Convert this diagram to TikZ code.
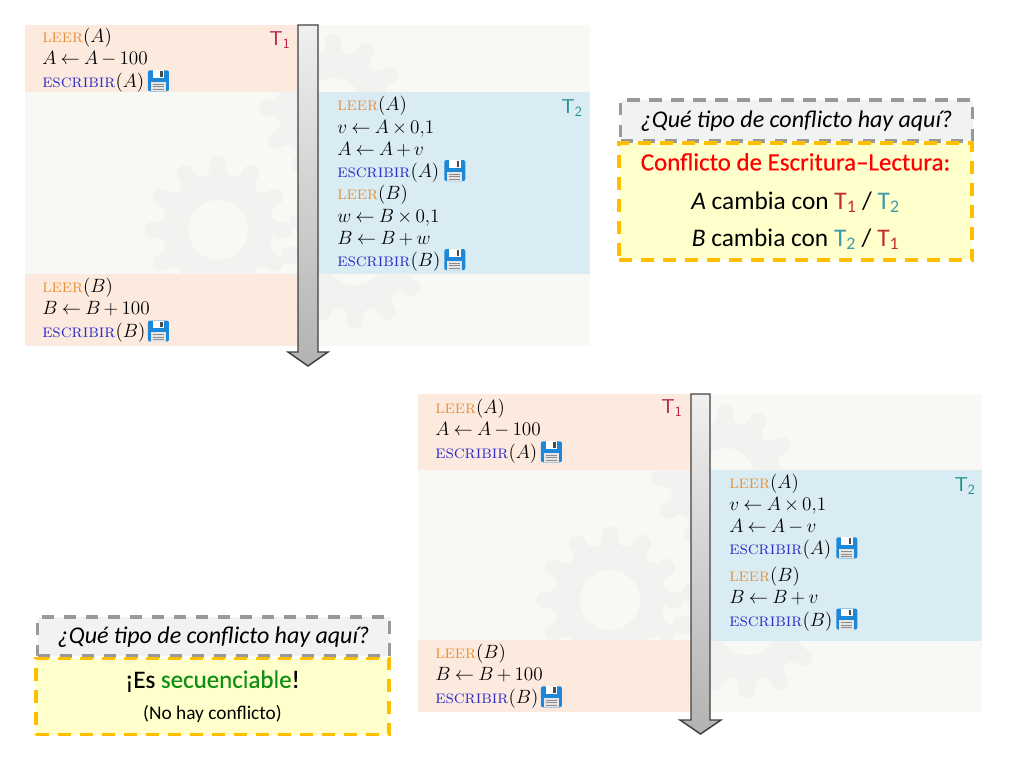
\documentclass[tikz,border=0pt]{standalone}
\usepackage{fontspec}
\usepackage{tikz}
\usetikzlibrary{positioning}
\newfontfamily\calibrifont{Carlito}
\newfontfamily\calibriheavy[FakeBold=0.3]{Carlito}
\thickmuskip=4mu
\medmuskip=3mu

\definecolor{panelback}{HTML}{F8F9F5}
\definecolor{gearback}{HTML}{F2F3F0}
\definecolor{peach}{HTML}{FDEADF}
\definecolor{skyblue}{HTML}{DAECF3}
\definecolor{leerorange}{HTML}{E8913A}
\definecolor{escribirblue}{HTML}{2E2EC8}
\definecolor{tOneRed}{HTML}{B8174A}
\definecolor{tTwoTeal}{HTML}{1A8C8C}
\definecolor{callRed}{HTML}{C0302A}
\definecolor{callTeal}{HTML}{3F9AA8}
\definecolor{greenWord}{HTML}{0F9010}
\definecolor{questBack}{HTML}{F2F2F2}
\definecolor{answerBack}{HTML}{FFFFCC}
\definecolor{floppyBlue}{HTML}{1E88D8}

\newcommand{\leer}[1]{\textcolor{leerorange}{\textsc{leer}}$(#1)$}
\newcommand{\escribir}[1]{\textcolor{escribirblue}{\textsc{escribir}}$(#1)$}
\newcommand{\callTa}{\textcolor{callRed}{T\textsubscript{1}}}
\newcommand{\callTb}{\textcolor{callTeal}{T\textsubscript{2}}}

% x, y of a wheel with 12 teeth
\newcommand{\gearwheel}[2]{
  \fill[gearback, rounded corners=5pt, shift={(#1,#2)}]
    (0:55) \foreach \k in {1,...,12}{
      -- ({(\k-.30)*30}:55) -- ({(\k-.20)*30}:74)
      -- ({(\k+.20)*30}:74) -- ({(\k+.30)*30}:55)
    } -- cycle;
  \fill[panelback, shift={(#1,#2)}] (0,0) circle (30);
}

\tikzset{
  codeline/.style={inner sep=0pt, text width=5cm, align=left, text height=10pt,
    text depth=3.5pt, font=\fontsize{13.75}{16}\selectfont},
  tlabel/.style={inner sep=0pt, font=\fontsize{15}{18}\selectfont},
  quest/.style={draw=gray!80, fill=questBack, line width=2.6pt, dash pattern=on 9.5pt off 7pt,
    minimum width=264pt, inner sep=0pt, text height=14pt, text depth=3pt,
    font=\calibrifont\itshape\fontsize{18}{22}\selectfont},
  answer/.style={draw=orange!50!yellow, fill=answerBack, line width=2.6pt, dash pattern=on 9.5pt off 7pt,
    minimum width=265pt, inner sep=0pt, align=center, font=\calibrifont\fontsize{19}{27.7}\selectfont},
  timearrow/.style={draw=black!75, line width=1.1pt, top color=black!6, bottom color=black!30},
  floppy/.pic={
    \fill[floppyBlue, rounded corners=1.5pt] (-10.5,-10.5) rectangle (10.5,10.5);
    \fill[white] (-5.5,-10.5) rectangle (6,-3);
    \fill[black!70] (2,-9.5) rectangle (4.5,-4);
    \fill[black!10] (-7.5,1) rectangle (7.5,10.5);
    \draw[black!45, line width=.5pt] (-5.5,3.5) -- (5.5,3.5) (-5.5,6) -- (5.5,6) (-5.5,8.5) -- (5.5,8.5);
  }
}

\begin{document}
\begin{tikzpicture}[x=.75pt, y=-.75pt, node distance=16.9pt]
\useasboundingbox (0,0) rectangle (1024,768);

% first schedule
\fill[panelback] (25,25) rectangle (590,346);
\gearwheel{333}{108}
\gearwheel{355}{255}
\gearwheel{218}{230}
\fill[peach] (25,25) rectangle (298,92);
\fill[peach] (25,274) rectangle (298,346);
\fill[skyblue] (318,92) rectangle (590,274);

\node(aRead)[codeline, anchor=west] at (42,37.7){\leer{A}};
\node(aSub)[codeline, below of=aRead]{$A \leftarrow A - 100$};
\node(aWrite)[codeline, below of=aSub]{\escribir{A}};
\pic at ([xshift=16pt, yshift=1.5pt]aWrite) {floppy};
\node(tOne)[tlabel, text=tOneRed] at (280,40){$\mathsf{T_1}$};

\node(cRead)[codeline, anchor=west, node distance=16.7pt] at (337,106.4){\leer{A}};
\node(cMul)[codeline, below of=cRead, node distance=16.7pt]{$v \leftarrow A \times 0{,}1$};
\node(cAdd)[codeline, below of=cMul, node distance=16.7pt]{$A \leftarrow A + v$};
\node(cWrite)[codeline, below of=cAdd, node distance=16.7pt]{\escribir{A}};
\node(dRead)[codeline, below of=cWrite, node distance=16.7pt]{\leer{B}};
\node(dMul)[codeline, below of=dRead, node distance=16.7pt]{$w \leftarrow B \times 0{,}1$};
\node(dAdd)[codeline, below of=dMul, node distance=16.7pt]{$B \leftarrow B + w$};
\node(dWrite)[codeline, below of=dAdd, node distance=16.7pt]{\escribir{B}};
\pic at ([xshift=17pt, yshift=2pt]cWrite) {floppy};
\pic at ([xshift=17pt, yshift=2pt]dWrite) {floppy};
\node(tTwo)[tlabel, text=tTwoTeal] at (572,108){$\mathsf{T_2}$};

\node(bRead)[codeline, anchor=west] at (42,288){\leer{B}};
\node(bAdd)[codeline, below of=bRead]{$B \leftarrow B + 100$};
\node(bWrite)[codeline, below of=bAdd]{\escribir{B}};
\pic at ([xshift=16pt, yshift=1.5pt]bWrite) {floppy};

\draw[timearrow] (298,25) -- (318,25) -- (318,352) -- (328,352) -- (308,366)
  -- (288,352) -- (298,352) -- cycle;

% second schedule
\fill[panelback] (418,394) rectangle (982,712);
\gearwheel{725}{478}
\gearwheel{747}{625}
\gearwheel{610}{600}
\fill[peach] (418,394) rectangle (691,470);
\fill[peach] (418,640) rectangle (691,712);
\fill[skyblue] (711,470) rectangle (982,641);

\node(eRead)[codeline, anchor=west] at (435,408.7){\leer{A}};
\node(eSub)[codeline, below of=eRead]{$A \leftarrow A - 100$};
\node(eWrite)[codeline, below of=eSub]{\escribir{A}};
\pic at ([xshift=16pt, yshift=1.5pt]eWrite) {floppy};
\node(tOneB)[tlabel, text=tOneRed] at (672,408){$\mathsf{T_1}$};

\node(gRead)[codeline, anchor=west, node distance=16.7pt] at (729,483.7){\leer{A}};
\node(gMul)[codeline, below of=gRead, node distance=16.7pt]{$v \leftarrow A \times 0{,}1$};
\node(gSub)[codeline, below of=gMul, node distance=16.7pt]{$A \leftarrow A - v$};
\node(gWrite)[codeline, below of=gSub, node distance=16.7pt]{\escribir{A}};
\node(hRead)[codeline, below of=gWrite, node distance=20pt]{\leer{B}};
\node(hAdd)[codeline, below of=hRead, node distance=16.7pt]{$B \leftarrow B + v$};
\node(hWrite)[codeline, below of=hAdd, node distance=16.7pt]{\escribir{B}};
\pic at ([xshift=17pt, yshift=2pt]gWrite) {floppy};
\pic at ([xshift=17pt, yshift=2pt]hWrite) {floppy};
\node(tTwoB)[tlabel, text=tTwoTeal] at (965,486){$\mathsf{T_2}$};

\node(fRead)[codeline, anchor=west] at (435,653.7){\leer{B}};
\node(fAdd)[codeline, below of=fRead]{$B \leftarrow B + 100$};
\node(fWrite)[codeline, below of=fAdd]{\escribir{B}};
\pic at ([xshift=16pt, yshift=1.5pt]fWrite) {floppy};

\draw[timearrow] (691,394) -- (710,394) -- (710,720) -- (721,720) -- (700.5,734)
  -- (680,720) -- (691,720) -- cycle;

% callouts
\node(questOne)[quest, minimum height=31pt] at (796.5,120.5){¿Qué tipo de conflicto hay aquí?};
\node(answerOne)[answer, minimum height=88pt] at (795.5,201.5){%
  {\color{red}\calibriheavy\fontsize{18.7}{27.7}\selectfont Conflicto de Escritura–Lectura:}\\[1.5pt]
  \textit{A} cambia con \callTa{} / \callTb\\
  \textit{B} cambia con \callTb{} / \callTa};

\node(questTwo)[quest, minimum height=29pt] at (213.5,636.5){¿Qué tipo de conflicto hay aquí?};
\node(answerTwo)[answer, minimum height=57pt] at (212.5,696.5){%
  {\calibriheavy\fontsize{18.7}{24}\selectfont ¡Es \textcolor{greenWord}{secuenciable}!}\\[-4pt]
  {\fontsize{14.5}{18}\selectfont (No hay conflicto)}};

\end{tikzpicture}
\end{document}
